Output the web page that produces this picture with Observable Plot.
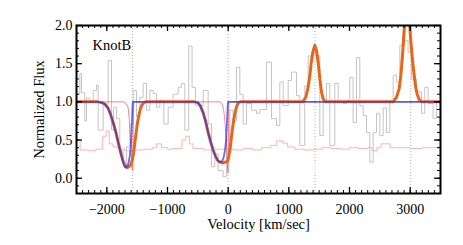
<!DOCTYPE html>
<html>
<head>
<meta charset="utf-8">
<script src="https://cdn.jsdelivr.net/npm/d3@7"></script>
<script src="https://cdn.jsdelivr.net/npm/@observablehq/plot@0.6"></script>
<style>
  html, body { margin: 0; padding: 0; background: white; }
  svg { font-family: "Liberation Serif", "DejaVu Serif", serif !important; }
</style>
</head>
<body>
<div id="chart"></div>
<script>
// ---- data ----
const panelLabel = "KnotB";
const xLabel = "Velocity [km/sec]";
const yLabel = "Normalized Flux";
const xTicks = [-2000, -1000, 0, 1000, 2000, 3000];
const yTicks = [0, 0.5, 1, 1.5, 2];
const lineCenters = [-1575, 0, 1432, 3010];

// observed spectrum (grey histogram): bin left edges and flux
const obsV = [-2500,-2445,-2418,-2363,-2335,-2280,-2225,-2170,-2143,-2060,-1978,-1923,-1890,-1840,-1786,-1731,-1676,-1621,-1566,-1511,-1456,-1401,-1346,-1291,-1236,-1181,-1126,-1060,-989,-907,-824,-770,-714,-650,-595,-540,-495,-412,-330,-275,-220,-165,-83,-28,27,82,137,192,247,302,384,467,522,632,714,797,852,907,989,1044,1126,1181,1263,1318,1373,1456,1511,1566,1621,1676,1758,1813,1895,1950,2005,2060,2115,2170,2225,2280,2335,2390,2445,2500,2555,2610,2665,2720,2775,2830,2911,2966,3021,3104,3186,3241,3296,3378,3433,3500];
const obsF = [1.10,1.37,1.12,0.75,1.05,1.02,1.15,1.22,0.63,0.97,1.54,0.63,0.93,0.78,0.36,0.15,0.41,0.71,1.15,0.80,1.06,1.24,0.89,1.15,1.11,0.93,1.02,0.71,0.93,1.10,1.19,1.24,0.63,1.73,1.19,0.95,0.95,1.15,0.71,0.15,0.32,0.10,0.02,0.50,0.89,0.75,1.45,1.10,0.71,0.98,0.89,0.85,0.90,1.52,0.78,0.69,1.26,0.95,1.28,1.39,1.08,0.43,1.21,1.60,1.65,1.60,0.56,1.00,1.24,0.43,1.24,1.00,0.98,1.02,1.32,0.73,1.58,0.95,0.82,0.60,0.21,0.60,0.85,0.56,0.92,0.60,1.00,1.35,1.26,1.74,1.80,1.65,1.30,1.13,0.85,1.19,0.98,0.78,1.00,1.00];

// error spectrum (light pink histogram)
const errV = [-2500,-2440,-2300,-2180,-2070,-2010,-1960,-1900,-1800,-1700,-1550,-1400,-1250,-1180,-1100,-1000,-900,-760,-700,-640,-580,-400,-250,-100,100,250,400,550,700,800,900,980,1100,1250,1400,1550,1700,1850,2000,2150,2300,2370,2450,2520,2670,2800,3000,3200,3350,3500];
const errF = [0.50,0.37,0.36,0.38,0.55,0.62,0.45,0.41,0.38,0.36,0.37,0.38,0.40,0.45,0.40,0.38,0.39,0.50,0.55,0.45,0.39,0.37,0.38,0.38,0.37,0.39,0.37,0.40,0.43,0.49,0.46,0.41,0.38,0.37,0.38,0.40,0.39,0.38,0.40,0.39,0.40,0.36,0.40,0.45,0.40,0.40,0.39,0.40,0.40,0.40];

// narrow absorption component (pink/red)
const narrowV = [-2500,-1720,-1685,-1650,-1630,-1612,-1600,-1590,-1580,-1572,-1565,-1558,-130,-100,-75,-55,-30,-18,-8,-2,5,12,3500];
const narrowF = [1,1,0.98,0.93,0.78,0.55,0.42,0.25,0.12,0.10,0.60,1,1,0.97,0.90,0.76,0.50,0.30,0.12,0.07,0.60,1,1];

// broad absorption component (blue)
const absV = [-2500,-2150,-2080,-2033,-1980,-1940,-1896,-1850,-1813,-1770,-1731,-1700,-1680,-1660,-1640,-1620,-1605,-1595,-1585,-1578,-1572,-560,-500,-460,-413,-370,-330,-290,-248,-210,-170,-130,-100,-75,-50,-35,-20,-10,-3,3500];
const absF = [1,1,0.99,0.97,0.92,0.84,0.73,0.60,0.47,0.33,0.21,0.15,0.14,0.16,0.21,0.30,0.42,0.55,0.75,0.92,1,1,0.99,0.95,0.86,0.74,0.60,0.48,0.37,0.29,0.23,0.21,0.22,0.27,0.38,0.50,0.72,0.90,1,1];

// total model (orange)
const totV = [-2500,-2150,-2080,-2033,-1980,-1940,-1896,-1850,-1813,-1770,-1731,-1700,-1670,-1640,-1610,-1580,-1560,-1540,-1520,-1500,-1475,-1450,-1420,-1390,-1360,-560,-500,-460,-413,-370,-330,-290,-248,-210,-170,-130,-90,-50,-10,10,30,55,80,110,140,170,200,1230,1280,1318,1346,1373,1401,1428,1456,1483,1511,1538,1566,1600,2720,2774,2818,2846,2873,2895,2920,2950,2980,3005,3032,3060,3087,3115,3148,3190,3500];
const totF = [1,1,0.99,0.97,0.92,0.84,0.73,0.60,0.47,0.33,0.22,0.16,0.14,0.15,0.17,0.24,0.33,0.45,0.58,0.70,0.81,0.90,0.96,0.99,1,1,0.99,0.95,0.86,0.74,0.60,0.48,0.37,0.29,0.23,0.21,0.20,0.21,0.22,0.28,0.38,0.55,0.70,0.85,0.94,0.99,1,1,1.06,1.19,1.34,1.54,1.67,1.74,1.67,1.52,1.30,1.13,1.04,1,1,1.06,1.17,1.34,1.60,1.87,2.15,2.30,2.20,1.85,1.60,1.39,1.21,1.10,1.03,1,1];

const zipVF = (vs, fs) => vs.map((v, i) => ({v, f: fs[i]}));
const obs = zipVF(obsV, obsF);
const err = zipVF(errV, errF);
const narrow = zipVF(narrowV, narrowF);
const absorb = zipVF(absV, absF);
const total = zipVF(totV, totF);

const W = 463, H = 245;
const mL = 76, mR = 23, mT = 25, mB = 52;
const plotW = W - mL - mR, plotH = H - mT - mB;

const xMinor = d3.range(-2500, 3501, 100);
const yMinor = d3.range(-2, 21, 1).map(d => d / 10);

const chart = Plot.plot({
  width: W,
  height: H,
  marginLeft: mL,
  marginRight: mR,
  marginTop: mT,
  marginBottom: mB,
  style: "font-family: 'Liberation Serif', 'DejaVu Serif', serif; font-size: 13px; background: white; color: black;",
  x: {domain: [-2500, 3500]},
  y: {domain: [-0.2, 2.0]},
  marks: [
    Plot.ruleX(lineCenters, {stroke: "#b0b0b0", strokeWidth: 1, strokeDasharray: "1,2"}),
    Plot.line(err, {x: "v", y: "f", curve: "step-after", stroke: "#ffb3b3", strokeWidth: 1}),
    Plot.line(obs, {x: "v", y: "f", curve: "step-after", stroke: "#c4c4c4", strokeWidth: 1, clip: true}),
    Plot.line(narrow, {x: "v", y: "f", stroke: "#ff5a5a", strokeWidth: 1, strokeOpacity: 0.75}),
    Plot.line(total, {x: "v", y: "f", stroke: "#e8661a", strokeWidth: 3, clip: true}),
    Plot.line(absorb, {x: "v", y: "f", stroke: "#2233ff", strokeWidth: 1.8, strokeOpacity: 0.72}),
    // inward ticks
    Plot.tickX(xMinor, {insetTop: plotH - 3, stroke: "black"}),
    Plot.tickX(xTicks, {insetTop: plotH - 6, stroke: "black", strokeWidth: 1.3}),
    Plot.tickX(xMinor, {insetBottom: plotH - 3, stroke: "black"}),
    Plot.tickX(xTicks, {insetBottom: plotH - 6, stroke: "black", strokeWidth: 1.3}),
    Plot.tickY(yMinor, {insetRight: plotW - 3, stroke: "black"}),
    Plot.tickY(yTicks, {insetRight: plotW - 6, stroke: "black", strokeWidth: 1.3}),
    Plot.tickY(yMinor, {insetLeft: plotW - 3, stroke: "black"}),
    Plot.tickY(yTicks, {insetLeft: plotW - 6, stroke: "black", strokeWidth: 1.3}),
    Plot.frame({stroke: "black", strokeWidth: 2}),
    Plot.axisX({ticks: xTicks, tickSize: 0, tickPadding: 11, tickFormat: d3.format("d"), label: null, fontSize: 14}),
    Plot.axisY({ticks: yTicks, tickSize: 0, tickPadding: 4, tickFormat: d3.format(".1f"), label: null, fontSize: 14}),
    Plot.text([xLabel], {frameAnchor: "bottom", dy: 31, textAnchor: "middle", lineAnchor: "middle", fontSize: 14.5, fill: "black"}),
    Plot.text([yLabel], {frameAnchor: "left", dx: -37, rotate: -90, textAnchor: "middle", lineAnchor: "middle", fontSize: 14.5, fill: "black"}),
    Plot.text([panelLabel], {frameAnchor: "top-left", dx: 16, dy: 20, textAnchor: "start", lineAnchor: "middle", fontSize: 14.5, fill: "black"})
  ]
});
document.getElementById("chart").appendChild(chart);
</script>
</body>
</html>
